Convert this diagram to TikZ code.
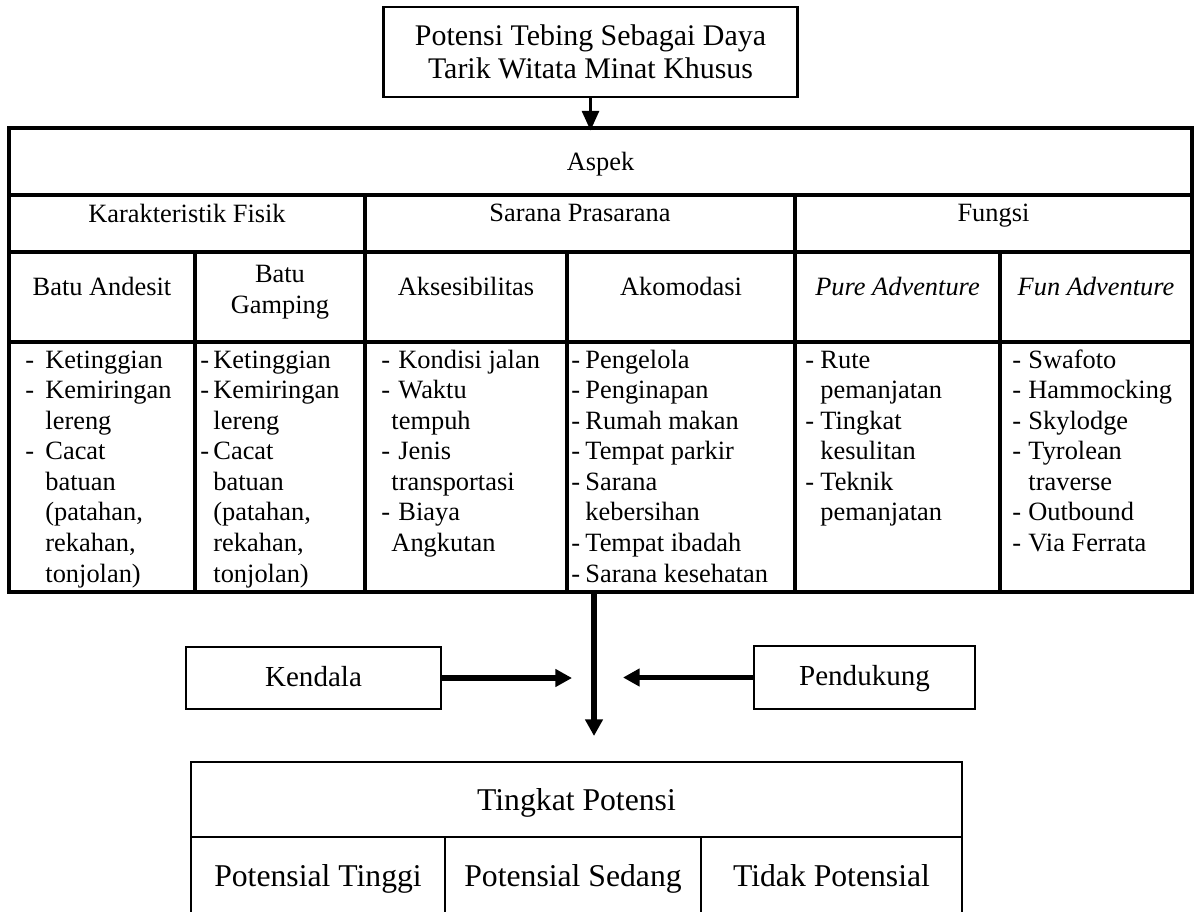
\documentclass[tikz,border=0pt]{standalone}
\usepackage{fontspec}
\setmainfont{Liberation Serif}
\usetikzlibrary{arrows.meta,positioning,calc}
\newdimen\px \px=0.4545pt
\newcommand{\butir}[2]{\makebox[#1\px][l]{-}#2}
\newcommand{\lanjut}[2]{\hspace*{#1\px}#2}
\tikzset{
  ukuran/.style 2 args={minimum width=#1*0.4545pt, minimum height=#2*0.4545pt},
  sel/.style={draw, line width=1.5pt, inner sep=0pt, font=\fontsize{12}{13.9}\selectfont},
  kepala/.style={sel, text depth=9.5pt},
  isi/.style={anchor=base west, inner sep=0pt, font=\fontsize{12}{13.9}\selectfont},
  kotak/.style={draw, line width=1pt, inner sep=0pt, align=center,
                font=\fontsize{13.6}{15.2}\selectfont},
  kotakK/.style={kotak, font=\fontsize{13.2}{15}\selectfont, text depth=1.5pt},
  kotakT/.style={draw, line width=1pt, inner sep=0pt, font=\fontsize{14.4}{16}\selectfont},
  panah/.style={-{Triangle[length=9pt,width=7.5pt]}, line width=1.8pt},
  panahB/.style={-{Triangle[length=7.6pt,width=7.8pt]}, line width=2.7pt},
}
\begin{document}
\begin{tikzpicture}[x=0.4545pt, y=-0.4545pt]
\useasboundingbox (0,0) rectangle (1197,911);

% judul
\node[kotak, ukuran={414}{90}] (judul) at (590.5,52) {Potensi Tebing Sebagai Daya\\Tarik Witata Minat Khusus};

% tabel aspek
\node[sel, text depth=0pt, ukuran={1183}{67}] (aspek) at (600.5,161.5) {Aspek};
\node[kepala, ukuran={356}{57}] (fisik) at (187,223.5) {Karakteristik Fisik};
\node[kepala, ukuran={430}{57}] (sarana) at (580,223.5) {Sarana Prasarana};
\node[kepala, ukuran={397}{57}] (fungsi) at (993.5,223.5) {Fungsi};

\node[kepala, ukuran={186}{90}] (andesit) at (102,297) {Batu Andesit};
\node[sel, ukuran={170}{90}] (gamping) at (280,297) {};
\node[sel, draw=none, align=center] (tGamping) at (280,292) {Batu\\Gamping};
\node[kepala, ukuran={202}{90}] (akses) at (466,297) {Aksesibilitas};
\node[kepala, ukuran={228}{90}] (akomodasi) at (681,297) {Akomodasi};
\node[kepala, ukuran={205}{90}] (pure) at (897.5,297) {\itshape Pure Adventure};
\node[kepala, ukuran={192}{90}] (fun) at (1096,297) {\itshape Fun Adventure};

\foreach \x/\w/\n in {102/186/bAndesit, 280/170/bGamping, 466/202/bAkses,
                      681/228/bAkomodasi, 897.5/205/bPure, 1096/192/bFun}
  \node[sel, ukuran={\w}{250}] (\n) at (\x,467) {};

% isi tiap kolom
\node[isi] (iAndesit) at (25,368) {\begin{tabular}[t]{@{}l@{}}
  \butir{20}{Ketinggian}\\ \butir{20}{Kemiringan}\\ \lanjut{20}{lereng}\\
  \butir{20}{Cacat}\\ \lanjut{20}{batuan}\\ \lanjut{20}{(patahan,}\\
  \lanjut{20}{rekahan,}\\ \lanjut{20}{tonjolan)}\end{tabular}};
\node[isi] (iGamping) at (200,368) {\begin{tabular}[t]{@{}l@{}}
  \butir{13}{Ketinggian}\\ \butir{13}{Kemiringan}\\ \lanjut{13}{lereng}\\
  \butir{13}{Cacat}\\ \lanjut{13}{batuan}\\ \lanjut{13}{(patahan,}\\
  \lanjut{13}{rekahan,}\\ \lanjut{13}{tonjolan)}\end{tabular}};
\node[isi] (iAkses) at (381,368) {\begin{tabular}[t]{@{}l@{}}
  \butir{17}{Kondisi jalan}\\ \butir{17}{Waktu}\\ \lanjut{10}{tempuh}\\
  \butir{17}{Jenis}\\ \lanjut{10}{transportasi}\\ \butir{17}{Biaya}\\
  \lanjut{10}{Angkutan}\end{tabular}};
\node[isi] (iAkomodasi) at (571,368) {\begin{tabular}[t]{@{}l@{}}
  \butir{14}{Pengelola}\\ \butir{14}{Penginapan}\\ \butir{14}{Rumah makan}\\
  \butir{14}{Tempat parkir}\\ \butir{14}{Sarana}\\ \lanjut{14}{kebersihan}\\
  \butir{14}{Tempat ibadah}\\ \butir{14}{Sarana kesehatan}\end{tabular}};
\node[isi] (iPure) at (805,368) {\begin{tabular}[t]{@{}l@{}}
  \butir{15}{Rute}\\ \lanjut{15}{pemanjatan}\\ \butir{15}{Tingkat}\\
  \lanjut{15}{kesulitan}\\ \butir{15}{Teknik}\\ \lanjut{15}{pemanjatan}\end{tabular}};
\node[isi] (iFun) at (1012,368) {\begin{tabular}[t]{@{}l@{}}
  \butir{16}{Swafoto}\\ \butir{16}{Hammocking}\\ \butir{16}{Skylodge}\\
  \butir{16}{Tyrolean}\\ \lanjut{16}{traverse}\\ \butir{16}{Outbound}\\
  \butir{16}{Via Ferrata}\end{tabular}};

\draw[panah, shorten >=-2pt] (judul.south) -- (judul.south |- aspek.north);

% kendala dan pendukung
\node[kotakK, ukuran={255}{62}] (kendala) at (313.5,678) {Kendala};
\node[kotakK, ukuran={221}{63}] (pendukung) at (864.5,677.5) {Pendukung};
\coordinate (temu) at (594,736);
\coordinate (kiri) at (572,678);
\coordinate (kanan) at (623,678);
\draw[panahB] (temu |- bAkomodasi.south) -- (temu);
\draw[panahB] (kendala.east) -- (kendala.east -| kiri);
\draw[panahB] (pendukung.west) -- (pendukung.west -| kanan);

% tingkat potensi
\node[kotakT, text depth=0pt, ukuran={771}{75}] (tingkat) at (576.5,799.5) {Tingkat Potensi};
\node[kotakT, text depth=7.5pt, ukuran={254}{93}] (tinggi) at (318,883.5) {Potensial Tinggi};
\node[kotakT, text depth=7.5pt, ukuran={256}{93}] (sedang) at (573,883.5) {Potensial Sedang};
\node[kotakT, text depth=7.5pt, ukuran={261}{93}] (tidak) at (831.5,883.5) {Tidak Potensial};
\end{tikzpicture}
\end{document}
